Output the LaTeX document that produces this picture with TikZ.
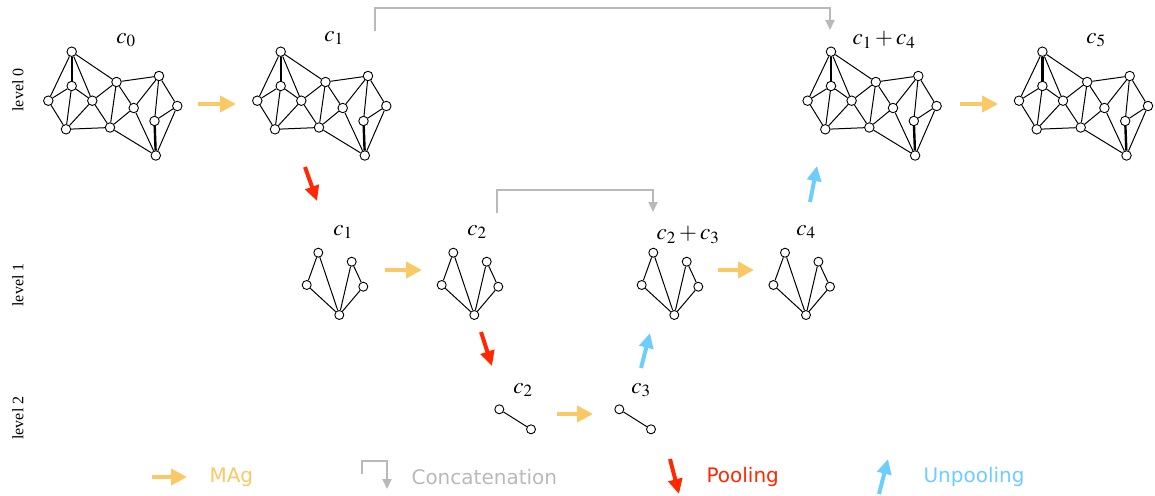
\documentclass[tikz,border=0pt]{standalone}
\usepackage{mathptmx}
\usepackage{fontspec}
\setmainfont{Liberation Serif}
\newfontfamily\legendfont{DejaVu Sans}
\usetikzlibrary{arrows.meta}
\definecolor{magcol}{RGB}{250,200,100}
\definecolor{poolcol}{RGB}{255,40,0}
\definecolor{unpoolcol}{RGB}{110,205,255}
\definecolor{catcol}{RGB}{185,185,185}
\tikzset {
    vtx/.style={draw, circle, fill=white, line width=0.9pt,
        minimum size=9.5pt, inner sep=0pt},
    edge/.style={line width=1pt},
    heavy/.style={line width=2.4pt},
    lbl/.style={font=\fontsize{23}{27}\selectfont},
    lvl/.style={rotate=90, font=\fontsize{16}{18}\selectfont},
    legend/.style={anchor=west, font=\legendfont\fontsize{20}{24}\selectfont},
    mag/.style={draw=magcol, line width=4.5pt,
        -{Triangle[length=16pt,width=16pt]}},
    pool/.style={draw=poolcol, line width=4pt,
        -{Triangle[length=15pt,width=14pt]}},
    unpool/.style={draw=unpoolcol, line width=4pt,
        -{Triangle[length=15pt,width=14pt]}},
    concat/.style={draw=catcol, line width=2pt,
        -{Triangle[length=10pt,width=9pt]}}
}
% level 0 mesh, #1 = name prefix, #2 = shift
\newcommand{\meshgraph}[2]{%
    \begin{scope}[shift={(#2,0)}]
        \foreach \i/\x/\y in {1/71.7/51.7, 2/48.3/100.7, 3/71.7/86,
            4/92.3/100.7, 5/66/129.3, 6/116.5/82, 7/110/127.5,
            8/133.7/108, 9/159/76, 10/177.3/106, 11/154.5/121,
            12/155.8/155.5}
            \node[vtx] (#1\i) at (\x,\y) {};
        \foreach \a/\b in {1/2, 1/4, 1/6, 2/3, 2/5, 3/4, 3/5, 4/5, 4/6,
            4/7, 5/7, 6/7, 6/8, 6/9, 7/8, 8/9, 8/12, 7/12, 9/11, 9/10,
            10/11, 10/12}
            \draw[edge] (#1\a) -- (#1\b);
        \foreach \a/\b in {1/3, 11/12}
            \draw[heavy] (#1\a) -- (#1\b);
    \end{scope}}
% level 1 graph
\newcommand{\fangraph}[2]{%
    \begin{scope}[shift={(#2,0)}]
        \foreach \i/\x/\y in {1/318.3/252.7, 2/306.7/285, 3/339.3/315,
            4/351.7/261.7, 5/363.3/286.7}
            \node[vtx, minimum size=9pt] (#1\i) at (\x,\y) {};
        \foreach \a/\b in {1/2, 1/3, 2/3, 4/3, 4/5, 5/3}
            \draw[edge] (#1\a) -- (#1\b);
    \end{scope}}
% level 2 graph
\newcommand{\pairgraph}[2]{%
    \begin{scope}[shift={(#2,0)}]
        \node[vtx, minimum size=9pt] (#11) at (499.3,409.3) {};
        \node[vtx, minimum size=9pt] (#12) at (531,429.3) {};
        \draw[edge] (#11) -- (#12);
    \end{scope}}
\begin{document}
\begin{tikzpicture}[x=1pt, y=-1pt]
    \useasboundingbox (0,0) rectangle (1155,495);

    \node[lvl] (L0) at (18,90) {level 0};
    \node[lvl] (L1) at (18,285) {level 1};
    \node[lvl] (L2) at (18,418) {level 2};

    \meshgraph{a}{0}
    \meshgraph{b}{209}
    \meshgraph{c}{759.3}
    \meshgraph{d}{970.7}
    \fangraph{e}{0}
    \fangraph{f}{135}
    \fangraph{g}{335}
    \fangraph{h}{466.7}
    \pairgraph{p}{0}
    \pairgraph{q}{120}

    \node[lbl] (ta) at (126,40) {$c_0$};
    \node[lbl] (tb) at (334,38) {$c_1$};
    \node[lbl] (tc) at (884,40) {$c_1+c_4$};
    \node[lbl] (td) at (1096,40) {$c_5$};
    \node[lbl] (te) at (343,232) {$c_1$};
    \node[lbl] (tf) at (477,232) {$c_2$};
    \node[lbl] (tg) at (688,235) {$c_2+c_3$};
    \node[lbl] (th) at (806,232) {$c_4$};
    \node[lbl] (tp) at (523,390) {$c_2$};
    \node[lbl] (tq) at (641,390) {$c_3$};

    % MAg
    \coordinate (m1) at (198,104);  \coordinate (m2) at (236,104);
    \coordinate (m3) at (960,104);  \coordinate (m4) at (998,104);
    \coordinate (m5) at (385,270);  \coordinate (m6) at (422,270);
    \coordinate (m7) at (718,270);  \coordinate (m8) at (754,270);
    \coordinate (m9) at (557,414);  \coordinate (m10) at (593,414);
    \draw[mag] (m1) -- (m2);
    \draw[mag] (m3) -- (m4);
    \draw[mag] (m5) -- (m6);
    \draw[mag] (m7) -- (m8);
    \draw[mag] (m9) -- (m10);

    % pooling / unpooling
    \coordinate (r1) at (305,167);  \coordinate (r2) at (317,201);
    \coordinate (r3) at (481,332);  \coordinate (r4) at (492,366);
    \coordinate (u1) at (810,202);  \coordinate (u2) at (817,166);
    \coordinate (u3) at (641,368);  \coordinate (u4) at (650,333);
    \draw[pool] (r1) -- (r2);
    \draw[pool] (r3) -- (r4);
    \draw[unpool] (u1) -- (u2);
    \draw[unpool] (u3) -- (u4);

    % concatenation
    \coordinate (k1) at (375,31);  \coordinate (k2) at (830,30);
    \coordinate (k3) at (497,213); \coordinate (k4) at (653,212);
    \draw[concat] (k1) -- ++(0,-23) -| (k2);
    \draw[concat] (k3) -- ++(0,-23) -| (k4);

    % legend
    \coordinate (x1) at (152,477);  \coordinate (x2) at (187,477);
    \draw[mag] (x1) -- (x2);
    \node[legend, text=magcol] (MAg) at (206,477) {MAg};
    \coordinate (x3) at (362,474);  \coordinate (x4) at (387,489);
    \draw[concat] (x3) -- ++(0,-13) -| (x4);
    \node[legend, text=catcol] (Cat) at (408,477) {Concatenation};
    \coordinate (x5) at (670,459);  \coordinate (x6) at (679,494);
    \draw[pool] (x5) -- (x6);
    \node[legend, text=poolcol] (Pool) at (703,477) {Pooling};
    \coordinate (x7) at (879,494);  \coordinate (x8) at (888,459);
    \draw[unpool] (x7) -- (x8);
    \node[legend, text=unpoolcol] (Unpool) at (920,477) {Unpooling};

\end{tikzpicture}
\end{document}
